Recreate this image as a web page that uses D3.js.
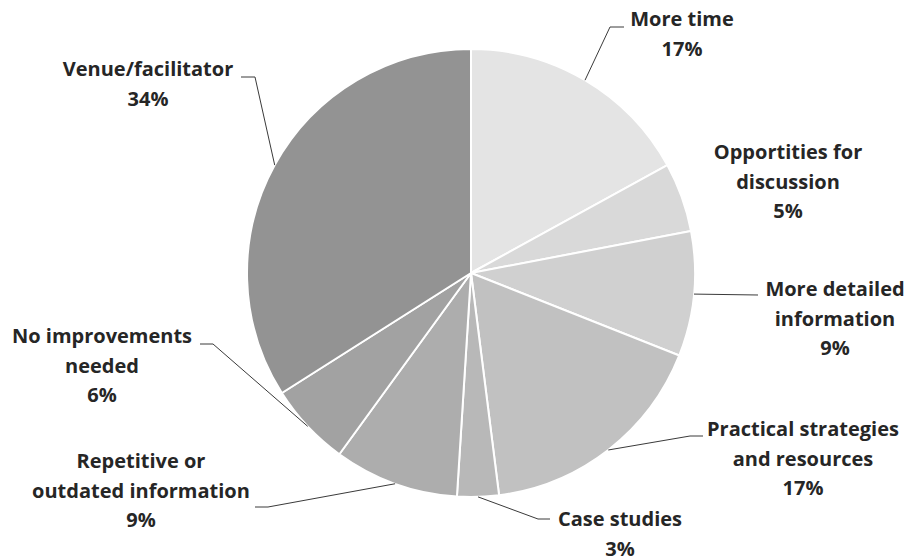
<!DOCTYPE html>
<html>
<head>
<meta charset="utf-8">
<script src="https://cdn.jsdelivr.net/npm/d3@7"></script>
<style>
  html, body { margin: 0; padding: 0; background: #ffffff; }
  svg { display: block; }
  text { font-family: "Open Sans", Lato, sans-serif; font-weight: 700; fill: #262626; }
</style>
</head>
<body>
<svg id="chart" width="910" height="558"></svg>
<script>
// ---- Data ----
const categories = [
  "More time",
  "Opportities for\ndiscussion",
  "More detailed\ninformation",
  "Practical strategies\nand resources",
  "Case studies",
  "Repetitive or\noutdated information",
  "No improvements\nneeded",
  "Venue/facilitator"
];
const values = [17, 5, 9, 17, 3, 9, 6, 34];
const percentLabels = ["17%", "5%", "9%", "17%", "3%", "9%", "6%", "34%"];

// ---- Styles / layout (not data) ----
const sliceColors = ["#e4e4e4", "#d9d9d9", "#d0d0d0", "#c1c1c1", "#b8b8b8", "#adadad", "#a2a2a2", "#939393"];
// label block: center x, first baseline y; leader: elbow and end points (null = no leader)
const labelLayout = [
  { x: 682, y: 26,  leader: [[610, 27], [624, 27]] },
  { x: 788, y: 159, leader: null },
  { x: 835, y: 296, leader: [[758, 295]] },
  { x: 803, y: 436, leader: [[690, 436], [703, 436]] },
  { x: 620, y: 526, leader: [[538, 519], [550, 519]] },
  { x: 141, y: 468, leader: [[268, 507], [255, 507]] },
  { x: 102, y: 343, leader: [[213, 344], [200, 344]] },
  { x: 148, y: 76,  leader: [[255, 77], [241, 77]] }
];
const lineHeight = 29.5;

const cx = 471, cy = 273, radius = 224;

const svg = d3.select("#chart");
const g = svg.append("g").attr("transform", `translate(${cx},${cy})`);

const pie = d3.pie().sort(null).value(d => d.value);
const arcs = pie(categories.map((c, i) => ({ category: c, value: values[i], label: percentLabels[i], i })));

const arc = d3.arc().innerRadius(0).outerRadius(radius);
const edgeArc = d3.arc().innerRadius(radius).outerRadius(radius);

g.selectAll("path.slice")
  .data(arcs)
  .join("path")
  .attr("class", "slice")
  .attr("d", arc)
  .attr("fill", (d, i) => sliceColors[i])
  .attr("stroke", "#ffffff")
  .attr("stroke-width", 2)
  .attr("stroke-linejoin", "round");

// Leader lines
const line = d3.line();
svg.selectAll("path.leader")
  .data(arcs.filter((d, i) => labelLayout[i].leader))
  .join("path")
  .attr("class", "leader")
  .attr("d", d => {
    const c = edgeArc.centroid(d);
    const pts = [[c[0] + cx, c[1] + cy]].concat(labelLayout[d.data.i].leader);
    return line(pts);
  })
  .attr("fill", "none")
  .attr("stroke", "#3a3a3a")
  .attr("stroke-width", 1);

// Labels
const labels = svg.selectAll("text.label")
  .data(arcs)
  .join("text")
  .attr("class", "label")
  .attr("text-anchor", "middle")
  .attr("font-size", 20);

labels.each(function(d) {
  const lay = labelLayout[d.data.i];
  const lines = d.data.category.split("\n").concat([d.data.label]);
  d3.select(this).selectAll("tspan")
    .data(lines)
    .join("tspan")
    .attr("x", lay.x)
    .attr("y", (t, k) => lay.y + k * lineHeight)
    .text(t => t);
});
</script>
</body>
</html>
